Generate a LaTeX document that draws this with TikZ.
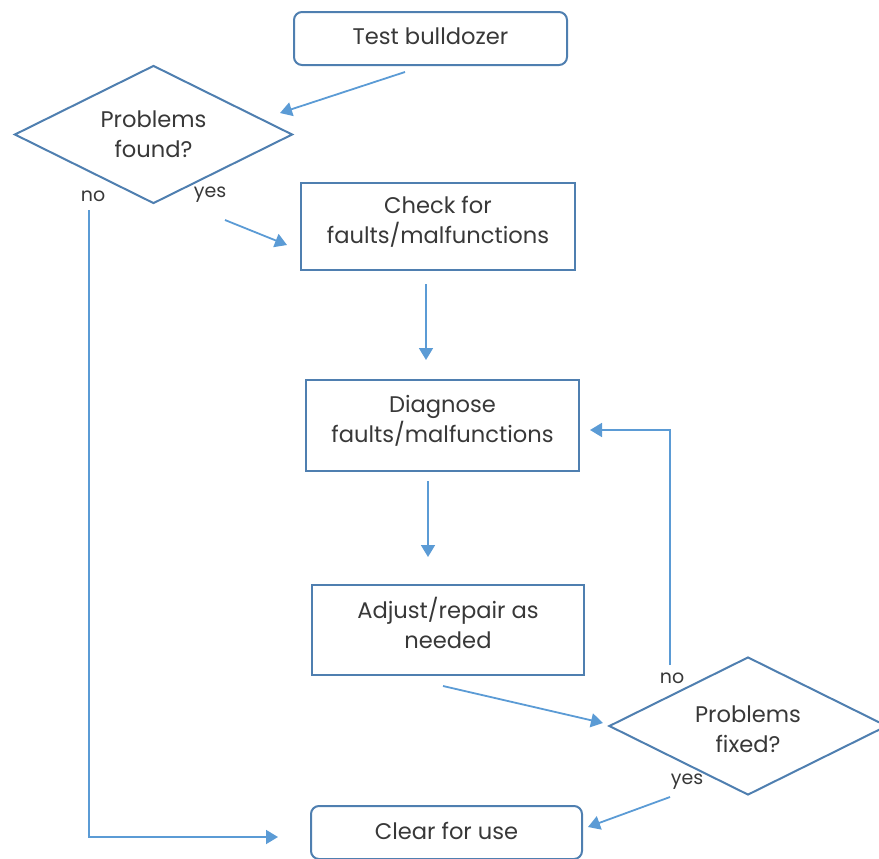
\documentclass[tikz,border=0pt]{standalone}
\usepackage{fontspec}
\setmainfont{Poppins}
\usetikzlibrary{shapes.geometric,arrows.meta}
\definecolor{edgeblue}{HTML}{4F7FB0}
\definecolor{arrowblue}{HTML}{5B9BD5}
\definecolor{inkgray}{HTML}{383838}
\begin{document}
\begin{tikzpicture} [x=0.5pt,y=-0.5pt,
  every node/.style={text=inkgray,font=\fontsize{11.3}{15}\selectfont},
  box/.style={draw=edgeblue,line width=1pt,align=center,text depth=7pt,inner sep=0pt},
  rbox/.style={box,rounded corners=4pt,text depth=2pt},
  dia/.style={draw=edgeblue,line width=1pt,diamond,inner sep=0pt,
    minimum width=139pt,minimum height=69pt},
  arr/.style={draw=arrowblue,line width=0.9pt,-{Triangle[length=6pt,width=7pt]}},
  lbl/.style={font=\fontsize{9.5}{11}\selectfont}]
  \useasboundingbox (0,0) rectangle (879,858);

% boxes
  \node [rbox,minimum width=136.5pt,minimum height=26.5pt] (test) at (430.5,38.5) {Test bulldozer};
  \node [dia,label={[align=center]center:Problems\\found?}] (found) at (153.5,134.5) {};
  \node [box,minimum width=137pt,minimum height=43.5pt] (check) at (438,226.5) {Check for\\faults/malfunctions};
  \node [box,minimum width=136.5pt,minimum height=45.5pt] (diag) at (442.5,425.5) {Diagnose\\faults/malfunctions};
  \node [box,minimum width=136pt,minimum height=45pt] (adjust) at (448,630) {Adjust/repair as\\needed};
  \node [dia,label={[align=center,yshift=-1.5pt]center:Problems\\fixed?}] (fixed) at (748,726) {};
  \node [rbox,minimum width=135.5pt,minimum height=26.5pt] (clear) at (446.5,832.5) {Clear for use};

% labels
  \node [lbl] (nofound) at (93,196) {no};
  \node [lbl] (yesfound) at (210,195) {yes};
  \node [lbl] (nofixed) at (672,678) {no};
  \node [lbl] (yesfixed) at (687,782) {yes};

% arrow ends
  \coordinate (t1) at (405,72);
  \coordinate (t2) at (280,113);
  \coordinate (n1) at (89,210);
  \coordinate (n2) at (89,837);
  \coordinate (n3) at (278,837);
  \coordinate (y1) at (225,220);
  \coordinate (y2) at (287,245);
  \coordinate (c1) at (426,284);
  \coordinate (c2) at (426,360);
  \coordinate (d1) at (428,481);
  \coordinate (d2) at (428,557);
  \coordinate (a1) at (443,686);
  \coordinate (a2) at (603,723);
  \coordinate (f1) at (670,665);
  \coordinate (f2) at (670,430);
  \coordinate (f3) at (590,430);
  \coordinate (e1) at (670,797);
  \coordinate (e2) at (588,827);

% arrows
  \draw [arr] (t1) -- (t2);
  \draw [arr] (n1) -- (n2) -- (n3);
  \draw [arr] (y1) -- (y2);
  \draw [arr] (c1) -- (c2);
  \draw [arr] (d1) -- (d2);
  \draw [arr] (a1) -- (a2);
  \draw [arr] (f1) -- (f2) -- (f3);
  \draw [arr] (e1) -- (e2);
\end{tikzpicture}
\end{document}
